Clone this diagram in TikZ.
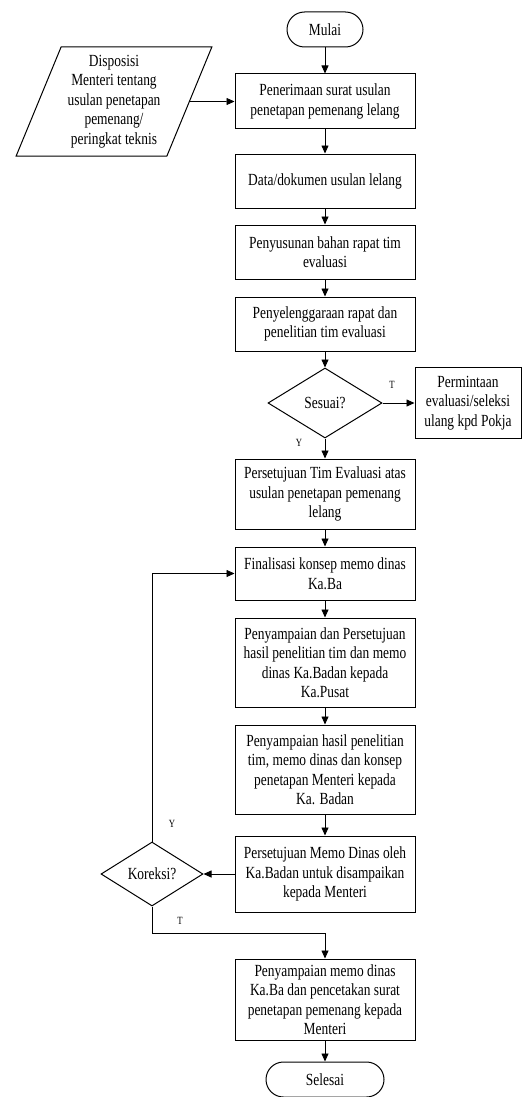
\documentclass[tikz,border=0pt]{standalone}
\usepackage{fontspec}
\setmainfont{Liberation Serif}[FakeStretch=0.79]
\usetikzlibrary{arrows.meta,shapes.geometric}

\begin{document}
\begin{tikzpicture}[x=1pt, y=-1pt,
        font=\fontsize{17}{19.5}\selectfont,
        kasten/.style={draw, line width=1pt, align=center, inner sep=2pt, minimum width=180pt},
        raute/.style={draw, line width=1pt, diamond, inner sep=0pt, align=center},
        ende/.style={draw, line width=1pt, rounded corners=17.5pt, minimum height=35pt},
        pfeil/.style={line width=0.8pt, -{Triangle[length=8pt, width=7pt]}},
        marke/.style={font=\fontsize{11}{13}\selectfont}]

                % Rahmen
                \useasboundingbox (0,0) rectangle (522,1097);

                % Hauptspalte
                \def\mx{325}

                \node[ende, minimum width=76pt] (mulai) at (\mx,29.5) {Mulai};
                \node[draw, line width=1pt, trapezium, trapezium left angle=67, trapezium right angle=113,
                      trapezium stretches=true, minimum width=196pt, minimum height=109pt,
                      inner sep=0pt, align=center] (dispo) at (114,101.5)
                      {Disposisi\\Menteri tentang\\usulan penetapan\\pemenang/\\peringkat teknis};
                \node[kasten, minimum height=55pt] (terima) at (\mx,101.5) {Penerimaan surat usulan\\penetapan pemenang lelang};
                \node[kasten, minimum height=54pt] (data) at (\mx,181) {Data/dokumen usulan lelang};
                \node[kasten, minimum height=54pt] (susun) at (\mx,252) {Penyusunan bahan rapat tim\\evaluasi};
                \node[kasten, minimum height=54pt] (rapat) at (\mx,324) {Penyelenggaraan rapat dan\\penelitian tim evaluasi};
                \node[raute, minimum width=114pt, minimum height=70pt] (sesuai) at (\mx,403) {Sesuai?};
                \node[kasten, minimum width=106pt, minimum height=71pt] (minta) at (468,403) {Permintaan\\evaluasi/seleksi\\ulang kpd Pokja};
                \node[kasten, minimum height=70pt] (setuju) at (\mx,494) {Persetujuan Tim Evaluasi atas\\usulan penetapan pemenang\\lelang};
                \node[kasten, minimum height=53pt] (final) at (\mx,573.5) {Finalisasi konsep memo dinas\\Ka.Ba};
                \node[kasten, minimum height=89pt] (lapor) at (\mx,662.5) {Penyampaian dan Persetujuan\\hasil penelitian tim dan memo\\dinas Ka.Badan kepada\\Ka.Pusat};
                \node[kasten, minimum height=89pt] (sampai) at (\mx,769.5) {Penyampaian hasil penelitian\\tim, memo dinas dan konsep\\penetapan Menteri kepada\\Ka. Badan};
                \node[kasten, minimum height=76pt] (memo) at (\mx,874) {Persetujuan Memo Dinas oleh\\Ka.Badan untuk disampaikan\\kepada Menteri};
                \node[raute, minimum width=102pt, minimum height=64pt] (koreksi) at (152,874) {Koreksi?};
                \node[kasten, minimum height=81pt] (kirim) at (\mx,999.5) {Penyampaian memo dinas\\Ka.Ba dan pencetakan surat\\penetapan pemenang kepada\\Menteri};
                \node[ende, minimum width=118pt] (selesai) at (\mx,1079.5) {Selesai};

                % Beschriftungen
                \node[marke] (t1) at (392,385) {T};
                \node[marke] (y1) at (299,443) {Y};
                \node[marke] (y2) at (172,824) {Y};
                \node[marke] (t2) at (180,921) {T};

                % Pfeile
                \foreach \a/\b in {mulai/terima, terima/data, data/susun, susun/rapat, rapat/sesuai,
                                   sesuai/setuju, setuju/final, final/lapor, lapor/sampai, sampai/memo,
                                   kirim/selesai} {
                    \draw[pfeil] (\a) -- (\b);
                }
                \draw[pfeil] (dispo.east) -- (terima.west);
                \draw[pfeil] (sesuai) -- (minta);
                \draw[pfeil] (memo) -- (koreksi);
                \draw[pfeil] (koreksi.north) |- (final.west);
                \draw[pfeil] (koreksi.south) -- ++(0,27) -| (kirim.north);
            \end{tikzpicture}
\end{document}
